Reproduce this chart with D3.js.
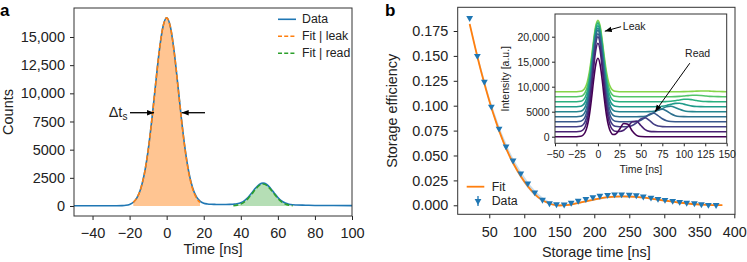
<!DOCTYPE html>
<html>
<head>
<meta charset="utf-8">
<script src="https://cdn.jsdelivr.net/npm/d3@7"></script>
<style>
  body { margin: 0; background: #fff; }
  svg { display: block; font-family: "Liberation Sans", Arial, sans-serif; }
</style>
</head>
<body>
<div id="chart"></div>
<script>
// ---- panel a : detected counts vs time ----
const countTime = [-50,-40,-30,-24,-22,-20,-18,-16,-14,-12,-10,-8,-6,-4,-2,0,2,4,6,8,10,12,14,16,18,20,
  22,24,26,28,30,32,34,36,38,40,42,44,46,48,50,52,54,56,58,60,62,64,66,68,70,75,80,90,100];
const countData = [20,20,20,35,60,140,330,740,1540,2890,4940,7660,10770,13750,15910,16710,15920,13770,10800,7700,5000,2960,1620,830,430,250,
  180,150,140,130,130,130,140,160,200,290,480,780,1170,1590,1910,2030,1910,1580,1160,760,450,260,160,110,90,70,50,40,30];
const leakTime = [-18,-16,-14,-12,-10,-8,-6,-4,-2,0,2,4,6,8,10,12,14,16,18];
const leakFit = [320,733,1530,2880,4930,7650,10760,13740,15900,16700,15900,13740,10760,7650,4930,2880,1530,733,320];
const readTime = [36,38,40,42,44,46,48,50,52,54,56,58,60,62,64,66,68];
const readFit = [28,76,180,375,677,1076,1497,1825,1950,1825,1497,1076,677,375,180,76,28];
const aTicksX = [-40,-20,0,20,40,60,80,100];
const aTicksY = [0,2500,5000,7500,10000,12500,15000];
const aLegend = ["Data", "Fit | leak", "Fit | read"];

// ---- panel b : storage efficiency vs storage time ----
const storageTime = [22,33,43,53,64,74,84,95,105,115,126,136,146,157,167,177,188,198,208,219,229,239,250,260,270,281,291,301,312,322,332,343,353,363,374];
const storageEff = [0.188,0.150,0.124,0.099,0.077,0.059,0.045,0.032,0.022,0.013,0.0055,0.002,0.001,0.0008,0.0025,0.0045,0.0063,0.0082,0.0095,0.0105,
  0.011,0.011,0.0106,0.010,0.0088,0.0077,0.0064,0.0054,0.0044,0.0034,0.0025,0.002,0.001,0.0004,0.0003];
const fitTime = [22,30,40,50,60,70,80,90,100,110,120,130,140,150,160,170,180,200,220,240,260,280,300,320,340,360,383];
const fitEff = [0.182,0.158,0.130,0.105,0.083,0.064,0.048,0.035,0.024,0.015,0.008,0.0035,0.0008,-0.0002,0.0001,0.0012,0.0028,0.0058,0.0081,0.0089,0.0084,0.0068,0.0048,0.0028,0.0013,0.0004,0.0001];
const bandLow = [0.180,0.156,0.128,0.103,0.081,0.062,0.046,0.033,0.022,0.013,0.0065,0.0025,0.0,-0.0008,-0.0005,0.0005,0.0020,0.0048,0.0070,0.0078,0.0074,0.0060,0.0041,0.0023,0.0009,0.0001,-0.0002];
const bandHigh = [0.184,0.161,0.134,0.109,0.088,0.069,0.053,0.040,0.029,0.019,0.0115,0.0060,0.0025,0.0010,0.0012,0.0022,0.0038,0.0068,0.0092,0.0100,0.0095,0.0078,0.0057,0.0035,0.0019,0.0008,0.0004];
const bTicksX = [50,100,150,200,250,300,350,400];
const bTicksY = [0,0.025,0.05,0.075,0.1,0.125,0.15,0.175];

// ---- inset : intensity traces, one per storage time (values above own offset) ----
const insetTime = [-50,-40,-30,-25,-20,-17.5,-15,-12.5,-10,-7.5,-5,-2.5,0,2.5,5,7.5,10,12.5,15,17.5,20,
  25,30,35,40,45,50,55,60,65,70,75,80,85,90,95,100,105,110,115,120,125,130,135,140,145,150];
const traceOffset = [0,1000,2000,3000,4000,5000,6000,7000,8000,9000];
const insetTraces = [
  [0,0,0,5,90,290,840,2060,4270,7550,11340,14480,15700,14480,11340,7550,4270,2070,890,440,470,
   1420,2650,2470,1150,270,30,0,0,0,0,0,0,0,0,0,0,0,0,0,0,0,0,0,0,0,0],
  [0,0,0,5,100,330,950,2320,4810,8510,12780,16320,17700,16320,12780,8510,4810,2320,950,330,100,
   55,300,1030,1980,2100,1230,400,70,10,0,0,0,0,0,0,0,0,0,0,0,0,0,0,0,0,0],
  [0,0,0,5,100,340,970,2360,4900,8660,13000,16600,18000,16600,13000,8660,4900,2360,970,340,100,
   5,5,45,240,790,1530,1780,1250,520,130,20,0,0,0,0,0,0,0,0,0,0,0,0,0,0,0],
  [0,0,0,5,100,330,940,2310,4790,8470,12710,16230,17600,16230,12710,8470,4790,2310,940,330,100,
   5,0,0,10,70,300,830,1480,1690,1230,580,180,30,0,0,0,0,0,0,0,0,0,0,0,0,0],
  [0,0,0,5,100,320,930,2270,4710,8320,12490,15950,17300,15950,12490,8320,4710,2270,930,320,100,
   5,0,0,0,0,20,90,330,800,1320,1490,1130,580,200,50,10,0,0,0,0,0,0,0,0,0,0],
  [0,0,0,5,90,310,900,2190,4540,8030,12060,15400,16700,15400,12060,8030,4540,2190,900,310,90,
   5,0,0,0,0,0,0,20,90,280,630,990,1090,860,480,190,50,10,0,0,0,0,0,0,0,0],
  [0,0,0,5,90,300,870,2120,4410,7790,11700,14940,16200,14940,11700,7790,4410,2120,870,300,90,
   5,0,0,0,0,0,0,0,0,30,100,250,470,660,680,520,290,120,40,10,0,0,0,0,0,0],
  [0,0,0,5,90,290,840,2060,4270,7550,11340,14480,15700,14480,11340,7550,4270,2060,840,290,90,
   5,0,0,0,0,0,0,0,0,0,0,30,80,200,350,480,490,380,230,100,30,10,0,0,0,0],
  [0,0,0,5,80,280,800,1970,4080,7220,10830,13830,15000,13830,10830,7220,4080,1970,800,280,80,
   5,0,0,0,0,0,0,0,0,0,0,0,0,20,60,130,220,290,290,240,150,70,30,10,0,0],
  [0,0,0,5,80,270,770,1870,3890,6880,10330,13190,14300,13190,10330,6880,3890,1870,770,270,80,
   5,0,0,0,0,0,0,0,0,0,0,0,0,0,0,10,30,60,110,140,150,120,70,40,10,0]
];
const iTicksX = [-50,-25,0,25,50,75,100,125,150];
const iTicksY = [0,5000,10000,15000,20000];

const W = 747, H = 262;
const blue = "#1f77b4", orange = "#ff7f0e", green = "#2ca02c", ink = "#222";

const fmtCount = v => v >= 10000 ? d3.format(",")(v) : String(v);
const fmtMinus = v => v < 0 ? "\u2212" + Math.abs(v) : String(v);

const svg = d3.select("#chart").append("svg")
    .attr("width", W)
    .attr("height", H);

// arrow head used by the annotations
svg.append("defs").append("marker")
    .attr("id", "head")
    .attr("viewBox", "0 0 10 10")
    .attr("refX", 10).attr("refY", 5)
    .attr("markerWidth", 7).attr("markerHeight", 7)
    .attr("markerUnits", "userSpaceOnUse")
    .attr("orient", "auto")
  .append("path")
    .attr("d", "M0,1 L10,5 L0,9 Z")
    .attr("fill", "#000");

// draws the box, ticks and tick labels for one set of axes
function axes(g, x, y, o) {
  const y0 = y.range()[0], x0 = x.range()[0];
  const gx = g.append("g")
      .attr("transform", `translate(0,${y0})`)
      .call(d3.axisBottom(x).tickValues(o.tx).tickFormat(o.fx).tickSize(o.tick).tickPadding(o.padX));
  const gy = g.append("g")
      .attr("transform", `translate(${x0},0)`)
      .call(d3.axisLeft(y).tickValues(o.ty).tickFormat(o.fy).tickSize(o.tick).tickPadding(o.padY));
  [gx, gy].forEach(a => {
    a.select(".domain").remove();
    a.attr("font-family", null).attr("font-size", o.font);
    a.selectAll("line").attr("stroke", ink);
    a.selectAll("text").attr("fill", ink);
  });
  g.append("rect")
      .attr("x", x0).attr("y", y.range()[1])
      .attr("width", x.range()[1] - x0)
      .attr("height", y0 - y.range()[1])
      .attr("fill", "none")
      .attr("stroke", "#333")
      .attr("stroke-width", 1);
}

// ================= panel a =================
const xA = d3.scaleLinear().domain([-50, 100]).range([74, 352]);
const yA = d3.scaleLinear().domain([-888, 17574]).range([216, 8]);
const gA = svg.append("g");

const area = (x, y) => d3.area().x(d => x(d[0])).y0(y(0)).y1(d => y(d[1])).curve(d3.curveMonotoneX);
const line = (x, y) => d3.line().x(d => x(d[0])).y(d => y(d[1])).curve(d3.curveMonotoneX);

const leakPts = d3.zip(leakTime, leakFit);
const readPts = d3.zip(readTime, readFit);

gA.append("path").attr("d", area(xA, yA)(leakPts)).attr("fill", orange).attr("fill-opacity", 0.45);
gA.append("path").attr("d", area(xA, yA)(readPts)).attr("fill", green).attr("fill-opacity", 0.35);

gA.append("path")
    .attr("d", line(xA, yA)(d3.zip(countTime, countData)))
    .attr("fill", "none").attr("stroke", blue).attr("stroke-width", 1.6);
gA.append("path")
    .attr("d", line(xA, yA)(leakPts))
    .attr("fill", "none").attr("stroke", orange).attr("stroke-width", 1.6).attr("stroke-dasharray", "5,2.5");
gA.append("path")
    .attr("d", line(xA, yA)(readPts))
    .attr("fill", "none").attr("stroke", green).attr("stroke-width", 1.6).attr("stroke-dasharray", "5,2.5");

axes(gA, xA, yA, { tx: aTicksX, ty: aTicksY, fx: fmtMinus, fy: fmtCount, tick: 4, padX: 8, padY: 5, font: 14.5 });

// width marker (Delta t_s)
const halfY = yA(8280);
gA.append("line").attr("x1", xA(-19.8)).attr("x2", xA(-6.8)).attr("y1", halfY).attr("y2", halfY)
    .attr("stroke", "#000").attr("stroke-width", 1.3).attr("marker-end", "url(#head)");
gA.append("line").attr("x1", xA(20.7)).attr("x2", xA(8.1)).attr("y1", halfY).attr("y2", halfY)
    .attr("stroke", "#000").attr("stroke-width", 1.3).attr("marker-end", "url(#head)");
const dt = gA.append("text").attr("x", xA(-21.2)).attr("y", halfY + 4.5).attr("text-anchor", "end")
    .attr("font-size", 14.5).attr("fill", ink);
dt.append("tspan").text("\u0394t");
dt.append("tspan").attr("font-size", 10).attr("dy", 3).text("s");

// legend a
const legA = gA.append("g");
[blue, orange, green].forEach((c, i) => {
  const ly = 19.3 + i * 17;
  legA.append("line").attr("x1", 278).attr("x2", 296).attr("y1", ly).attr("y2", ly)
      .attr("stroke", c).attr("stroke-width", 1.6).attr("stroke-dasharray", i ? "4,2.2" : null);
  legA.append("text").attr("x", 302).attr("y", ly).attr("dominant-baseline", "central")
      .attr("font-size", 12.3).attr("fill", ink).text(aLegend[i]);
});

gA.append("text").attr("x", 213).attr("y", 253.5).attr("text-anchor", "middle")
    .attr("font-size", 14.5).attr("fill", ink).text("Time [ns]");
gA.append("text").attr("transform", "translate(13.3,112) rotate(-90)").attr("text-anchor", "middle")
    .attr("font-size", 14.5).attr("fill", ink).text("Counts");
svg.append("text").attr("x", 0).attr("y", 15.5).attr("font-size", 17).attr("font-weight", "bold").text("a");

// ================= panel b =================
const xB = d3.scaleLinear().domain([4.9, 401]).range([457.7, 735]);
const yB = d3.scaleLinear().domain([-0.00904, 0.1988]).range([214.3, 7.3]);
const gB = svg.append("g");

gB.append("path")
    .attr("d", d3.area().x((d, i) => xB(fitTime[i])).y0((d, i) => yB(bandLow[i])).y1((d, i) => yB(bandHigh[i]))
      .curve(d3.curveMonotoneX)(fitTime))
    .attr("fill", blue).attr("fill-opacity", 0.25);
gB.append("path")
    .attr("d", line(xB, yB)(d3.zip(fitTime, fitEff)))
    .attr("fill", "none").attr("stroke", orange).attr("stroke-width", 1.8);

const tri = d3.symbol(d3.symbolTriangle, 20);
gB.append("g").selectAll("path")
  .data(d3.zip(storageTime, storageEff))
  .join("path")
    .attr("d", tri)
    .attr("transform", d => `translate(${xB(d[0])},${yB(d[1])}) rotate(180)`)
    .attr("fill", blue);

axes(gB, xB, yB, { tx: bTicksX, ty: bTicksY, fx: String, fy: d3.format(".3f"), tick: 4, padX: 8.4, padY: 5.4, font: 14.4 });

// legend b
gB.append("line").attr("x1", 466.7).attr("x2", 484.3).attr("y1", 186.7).attr("y2", 186.7)
    .attr("stroke", orange).attr("stroke-width", 1.8);
gB.append("text").attr("x", 491.7).attr("y", 186.7).attr("dominant-baseline", "central")
    .attr("font-size", 12.3).attr("fill", ink).text("Fit");
gB.append("line").attr("x1", 478).attr("x2", 478).attr("y1", 196).attr("y2", 206)
    .attr("stroke", blue).attr("stroke-width", 1.3);
gB.append("path").attr("d", tri).attr("transform", "translate(478,201) rotate(180)").attr("fill", blue);
gB.append("text").attr("x", 491.7).attr("y", 201).attr("dominant-baseline", "central")
    .attr("font-size", 12.3).attr("fill", ink).text("Data");

gB.append("text").attr("x", 596.3).attr("y", 257).attr("text-anchor", "middle")
    .attr("font-size", 14.4).attr("fill", ink).text("Storage time [ns]");
gB.append("text").attr("transform", "translate(396.5,110.8) rotate(-90)").attr("text-anchor", "middle")
    .attr("font-size", 14.4).attr("fill", ink).text("Storage efficiency");
svg.append("text").attr("x", 385).attr("y", 15.5).attr("font-size", 17).attr("font-weight", "bold").text("b");

// ================= inset =================
const xI = d3.scaleLinear().domain([-50, 150]).range([555, 726.7]);
const yI = d3.scaleLinear().domain([-1320, 24540]).range([143.3, 14]);
const gI = svg.append("g");

gI.append("rect").attr("x", 555).attr("y", 14).attr("width", 171.7).attr("height", 129.3).attr("fill", "#fff");

const traceLine = d3.line().x((d, i) => xI(insetTime[i])).curve(d3.curveMonotoneX);
d3.range(insetTraces.length).reverse().forEach(k => {
  gI.append("path")
      .attr("d", traceLine.y(v => yI(v + traceOffset[k]))(insetTraces[k]))
      .attr("fill", "none")
      .attr("stroke", d3.interpolateViridis(k / 11))
      .attr("stroke-width", 1.6);
});

axes(gI, xI, yI, { tx: iTicksX, ty: iTicksY, fx: fmtMinus, fy: fmtCount, tick: 3, padX: 4.5, padY: 2.5, font: 10.5 });

// annotations
gI.append("line").attr("x1", xI(27)).attr("y1", yI(22000)).attr("x2", xI(8)).attr("y2", yI(21100))
    .attr("stroke", "#000").attr("stroke-width", 1).attr("marker-end", "url(#head)");
gI.append("text").attr("x", xI(29)).attr("y", yI(22200)).attr("dominant-baseline", "central")
    .attr("font-size", 10.5).attr("fill", ink).text("Leak");
gI.append("line").attr("x1", xI(107)).attr("y1", yI(14700)).attr("x2", xI(66.5)).attr("y2", yI(5000))
    .attr("stroke", "#000").attr("stroke-width", 1).attr("marker-end", "url(#head)");
gI.append("text").attr("x", xI(101.5)).attr("y", yI(16750)).attr("dominant-baseline", "central")
    .attr("font-size", 10.5).attr("fill", ink).text("Read");

gI.append("text").attr("x", 640.8).attr("y", 172.5).attr("text-anchor", "middle")
    .attr("font-size", 10.5).attr("fill", ink).text("Time [ns]");
gI.append("text").attr("transform", "translate(508.5,78.7) rotate(-90)").attr("text-anchor", "middle")
    .attr("font-size", 10.5).attr("fill", ink).text("Intensity [a.u.]");
</script>
</body>
</html>
